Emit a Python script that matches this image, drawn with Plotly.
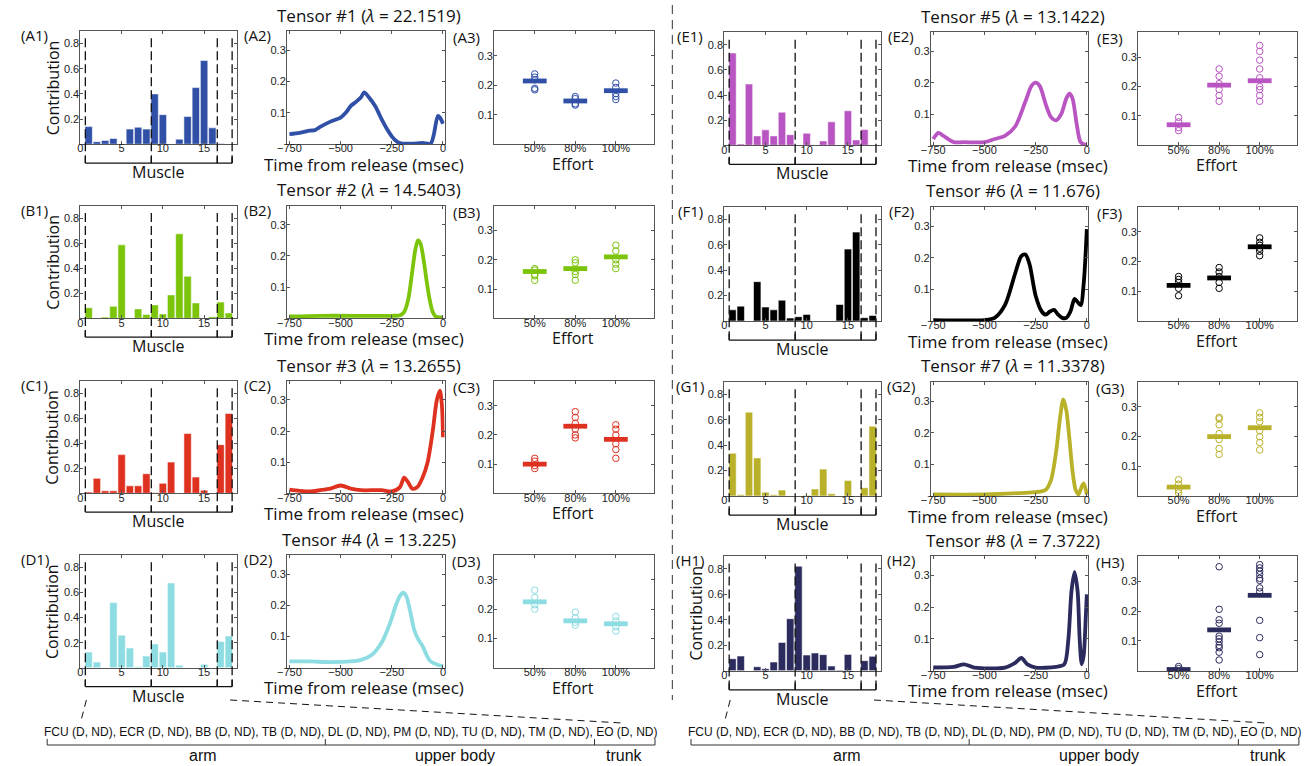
import plotly.graph_objects as go

W, H = 1309, 766

# ---------------- data ----------------
muscles = list(range(1, 19))
tensor_names = ["#1", "#2", "#3", "#4", "#5", "#6", "#7", "#8"]
tensor_letters = ["A", "B", "C", "D", "E", "F", "G", "H"]
lambdas = ["22.1519", "14.5403", "13.2655", "13.225", "13.1422", "11.676", "11.3378", "7.3722"]
colors = ["#3050A8", "#7BC40A", "#DF3120", "#8CDCE2", "#B955C2", "#000000", "#BAB12A", "#2B2B5E"]

contrib_A = [0.14, 0.02, 0.03, 0.045, 0.0, 0.12, 0.135, 0.12, 0.40, 0.235, 0.0, 0.04, 0.22, 0.45, 0.665, 0.13, 0.005, 0.0]
contrib_B = [0.085, 0.0, 0.01, 0.096, 0.587, 0.0, 0.075, 0.03, 0.107, 0.035, 0.187, 0.675, 0.336, 0.123, 0.0, 0.013, 0.13, 0.043]
contrib_C = [0.01, 0.12, 0.02, 0.02, 0.31, 0.06, 0.06, 0.157, 0.005, 0.08, 0.25, 0.0, 0.48, 0.13, 0.025, 0.0, 0.39, 0.64]
contrib_D = [0.125, 0.045, 0.0, 0.52, 0.26, 0.157, 0.01, 0.093, 0.19, 0.125, 0.677, 0.02, 0.0, 0.0, 0.027, 0.0, 0.21, 0.253]
contrib_E = [0.735, 0.01, 0.488, 0.075, 0.123, 0.075, 0.264, 0.085, 0.0, 0.096, 0.0, 0.035, 0.187, 0.0, 0.275, 0.043, 0.125, 0.0]
contrib_F = [0.088, 0.117, 0.0, 0.31, 0.11, 0.088, 0.164, 0.023, 0.034, 0.052, 0.0, 0.0, 0.0, 0.13, 0.566, 0.70, 0.026, 0.044]
contrib_G = [0.337, 0.01, 0.66, 0.30, 0.03, 0.01, 0.047, 0.0, 0.0, 0.005, 0.055, 0.212, 0.018, 0.0, 0.123, 0.0, 0.065, 0.55]
contrib_H = [0.094, 0.115, 0.0, 0.031, 0.016, 0.068, 0.222, 0.408, 0.82, 0.123, 0.139, 0.126, 0.037, 0.005, 0.128, 0.0, 0.079, 0.113]

time_A = [-750, -700, -650, -625, -600, -550, -500, -475, -450, -425, -400, -385, -360, -330, -300, -275, -250, -225, -200, -150, -100, -60, -45, -25, -15, 0]
course_A = [0.032, 0.036, 0.043, 0.045, 0.055, 0.072, 0.085, 0.1, 0.122, 0.135, 0.15, 0.165, 0.148, 0.12, 0.08, 0.05, 0.025, 0.008, 0.002, 0.002, 0.004, 0.002, 0.03, 0.09, 0.085, 0.065]
time_B = [-750, -600, -450, -300, -250, -210, -190, -170, -150, -135, -122, -110, -95, -80, -65, -50, -35, 0]
course_B = [0.006, 0.008, 0.008, 0.008, 0.008, 0.01, 0.02, 0.06, 0.15, 0.22, 0.25, 0.24, 0.19, 0.12, 0.06, 0.02, 0.005, 0.003]
time_C = [-750, -700, -650, -600, -550, -500, -450, -400, -300, -250, -210, -190, -170, -150, -125, -100, -75, -50, -30, -15, -5, 0]
course_C = [0.012, 0.008, 0.006, 0.01, 0.015, 0.025, 0.015, 0.01, 0.01, 0.006, 0.02, 0.05, 0.035, 0.015, 0.02, 0.05, 0.1, 0.2, 0.3, 0.33, 0.28, 0.18]
time_D = [-750, -650, -550, -450, -400, -350, -300, -260, -230, -210, -195, -180, -160, -140, -120, -100, -80, -60, -30, 0]
course_D = [0.02, 0.02, 0.018, 0.02, 0.025, 0.04, 0.08, 0.14, 0.2, 0.23, 0.24, 0.23, 0.18, 0.12, 0.09, 0.07, 0.04, 0.02, 0.01, 0.005]
time_E = [-750, -725, -700, -650, -600, -500, -450, -400, -350, -300, -270, -250, -230, -200, -175, -150, -125, -100, -85, -70, -50, -30, 0]
course_E = [0.02, 0.04, 0.03, 0.01, 0.01, 0.01, 0.02, 0.03, 0.06, 0.14, 0.19, 0.2, 0.19, 0.13, 0.09, 0.08, 0.1, 0.15, 0.165, 0.15, 0.07, 0.01, 0.0]
time_F = [-750, -500, -450, -400, -350, -320, -300, -280, -250, -220, -200, -180, -160, -140, -120, -100, -80, -60, -45, -30, -15, 0]
course_F = [0.003, 0.003, 0.01, 0.05, 0.15, 0.205, 0.21, 0.18, 0.08, 0.03, 0.02, 0.03, 0.035, 0.02, 0.01, 0.01, 0.03, 0.07, 0.06, 0.05, 0.12, 0.29]
time_G = [-750, -500, -300, -250, -200, -175, -150, -130, -115, -100, -85, -70, -55, -40, -25, -15, 0]
course_G = [0.005, 0.005, 0.01, 0.012, 0.02, 0.05, 0.14, 0.25, 0.305, 0.27, 0.18, 0.08, 0.02, 0.005, 0.03, 0.04, 0.005]
time_H = [-750, -650, -600, -550, -400, -350, -320, -290, -250, -150, -110, -90, -75, -60, -45, -35, -25, -15, -5, 0]
course_H = [0.01, 0.012, 0.02, 0.01, 0.01, 0.025, 0.04, 0.02, 0.01, 0.012, 0.02, 0.1, 0.25, 0.31, 0.25, 0.1, 0.02, 0.05, 0.17, 0.24]

effort_pos = [1, 2, 3]
effort_labels = ["50%", "80%", "100%"]
trials_A = [[0.239, 0.228, 0.219, 0.19, 0.185], [0.162, 0.155, 0.1375, 0.133], [0.208, 0.193, 0.172, 0.162, 0.152]]
means_A = [0.215, 0.147, 0.182]
trials_B = [[0.13, 0.145, 0.15, 0.165, 0.17], [0.13, 0.15, 0.16, 0.19, 0.2], [0.17, 0.185, 0.2, 0.23, 0.25]]
means_B = [0.16, 0.17, 0.21]
trials_C = [[0.085, 0.095, 0.11, 0.12], [0.19, 0.2, 0.22, 0.24, 0.26, 0.28], [0.12, 0.15, 0.17, 0.2, 0.22, 0.235]]
means_C = [0.10, 0.23, 0.185]
trials_D = [[0.2, 0.215, 0.24, 0.265], [0.145, 0.155, 0.17, 0.19], [0.125, 0.14, 0.16, 0.175]]
means_D = [0.225, 0.16, 0.15]
trials_E = [[0.05, 0.06, 0.08, 0.095], [0.15, 0.17, 0.19, 0.21, 0.235, 0.26], [0.15, 0.17, 0.19, 0.2, 0.23, 0.26, 0.29, 0.32, 0.34]]
means_E = [0.07, 0.205, 0.22]
trials_F = [[0.085, 0.11, 0.13, 0.14, 0.15], [0.11, 0.13, 0.15, 0.165, 0.18], [0.22, 0.235, 0.245, 0.255, 0.265, 0.28]]
means_F = [0.12, 0.145, 0.25]
trials_G = [[0.01, 0.02, 0.04, 0.055], [0.14, 0.16, 0.19, 0.21, 0.24, 0.26, 0.265], [0.155, 0.18, 0.2, 0.22, 0.25, 0.265, 0.28]]
means_G = [0.03, 0.2, 0.23]
trials_H = [[0.014, 0.007], [0.349, 0.206, 0.171, 0.159, 0.116, 0.107, 0.097, 0.085, 0.077, 0.062, 0.036],
            [0.356, 0.345, 0.334, 0.323, 0.31, 0.303, 0.278, 0.265, 0.169, 0.111, 0.054]]
means_H = [0.004, 0.137, 0.253]

group_bounds = [0.6, 8.6, 16.6, 18.4]
muscle_list_text = "FCU (D, ND), ECR (D, ND), BB (D, ND), TB (D, ND), DL (D, ND), PM (D, ND), TU (D, ND), TM (D, ND), EO (D, ND)"
group_names = ["arm", "upper body", "trunk"]

contribs = [contrib_A, contrib_B, contrib_C, contrib_D, contrib_E, contrib_F, contrib_G, contrib_H]
times = [time_A, time_B, time_C, time_D, time_E, time_F, time_G, time_H]
courses = [course_A, course_B, course_C, course_D, course_E, course_F, course_G, course_H]
trials = [trials_A, trials_B, trials_C, trials_D, trials_E, trials_F, trials_G, trials_H]
means = [means_A, means_B, means_C, means_D, means_E, means_F, means_G, means_H]

# ---------------- layout geometry (pixels) ----------------
bar_x0 = [71.0, 720.3]
line_x0 = [279.3, 928.6]
sc_x0 = [488.3, 1137.6]
bar_w, line_w, sc_w = 158.0, 159.0, 160.7
rows = [
    [(31.0, 144.2), (205.7, 318.3), (381.0, 493.3), (555.0, 667.7)],
    [(32.3, 145.3), (206.7, 321.0), (381.7, 496.0), (556.0, 670.7)],
]

TXT = "Open Sans"
TICKF = dict(family="Liberation Sans", size=11, color="#222")


def px(x):
    return x / W


def py(y):
    return 1 - y / H


def aid(n):
    return "" if n == 1 else str(n)


fig = go.Figure()
layout = dict(width=W, height=H, margin=dict(l=0, r=0, t=0, b=0), showlegend=False,
              paper_bgcolor="white", plot_bgcolor="white")
annotations = []
shapes = []


def axis_common(is_x):
    return dict(showline=True, linecolor="#555", linewidth=1, mirror="ticks", ticks="inside",
                ticklen=3, tickcolor="#555", tickfont=TICKF, showgrid=False, zeroline=False,
                fixedrange=True, ticklabelstandoff=(-6 if is_x else -2))


def ann(x, y, text, size=16, family=TXT, angle=0, color="#111"):
    annotations.append(dict(x=px(x), y=py(y), xref="paper", yref="paper", text=text, showarrow=False,
                            xanchor="center", yanchor="middle", textangle=angle,
                            font=dict(family=family, size=size, color=color)))


for i in range(8):
    col, row = i // 4, i % 4
    top, bot = rows[col][row]
    ydom = [py(bot), py(top)]
    color = colors[i]
    L = tensor_letters[i]

    # ---- bar panel ----
    n = 3 * i + 1
    xa = axis_common(True)
    xa.update(domain=[px(bar_x0[col]), px(bar_x0[col] + bar_w)], anchor="y" + aid(n), range=[0, 19],
              tickvals=[0, 5, 10, 15])
    ya = axis_common(False)
    ya.update(domain=ydom, anchor="x" + aid(n), range=[0, 0.9], tickvals=[0.2, 0.4, 0.6, 0.8])
    layout["xaxis" + aid(n)] = xa
    layout["yaxis" + aid(n)] = ya
    fig.add_trace(go.Bar(x=muscles, y=contribs[i], width=0.9, marker=dict(color=color,
                  line=dict(color="rgba(255,255,255,0.55)", width=1)), xaxis="x" + aid(n), yaxis="y" + aid(n)))
    for b in group_bounds:
        shapes.append(dict(type="line", xref="x%s domain" % aid(n), yref="y%s domain" % aid(n),
                           x0=b / 19, x1=b / 19, y0=0.935, y1=-0.165,
                           line=dict(color="#111", width=1.3, dash="9px,4px")))
        shapes.append(dict(type="line", xref="x%s domain" % aid(n), yref="y%s domain" % aid(n),
                           x0=b / 19, x1=b / 19, y0=-0.11, y1=-0.168,
                           line=dict(color="#111", width=1.3)))
    shapes.append(dict(type="line", xref="x%s domain" % aid(n), yref="y%s domain" % aid(n),
                       x0=group_bounds[0] / 19, x1=group_bounds[-1] / 19, y0=-0.168, y1=-0.168,
                       line=dict(color="#111", width=1.3)))
    bcx = bar_x0[col] + bar_w / 2
    ann(bcx, bot + 28, "Muscle", 16)
    lab_x = 25 if col == 0 else 686
    ann(lab_x, top + 4, "(%s1)" % L, 15)
    if col == 0 or row == 3:
        ann(43 if col == 0 else 692, (top + bot) / 2, "Contribution", 16, angle=-90)

    # ---- line panel ----
    n = 3 * i + 2
    xa = axis_common(True)
    xa.update(domain=[px(line_x0[col]), px(line_x0[col] + line_w)], anchor="y" + aid(n), range=[-762, 8],
              tickvals=[-750, -500, -250, 0])
    ya = axis_common(False)
    ya.update(domain=ydom, anchor="x" + aid(n), range=[0, 0.361], tickvals=[0.1, 0.2, 0.3])
    layout["xaxis" + aid(n)] = xa
    layout["yaxis" + aid(n)] = ya
    fig.add_trace(go.Scatter(x=times[i], y=courses[i], mode="lines",
                             line=dict(color=color, width=3.8, shape="spline", smoothing=0.8),
                             xaxis="x" + aid(n), yaxis="y" + aid(n), cliponaxis=True))
    lcx = line_x0[col] + line_w / 2
    ann(lcx + 3, top - 16, "Tensor %s (<i>λ</i> = %s)" % (tensor_names[i], lambdas[i]), 17)
    ann(lcx - 2, bot + 20, "Time from release (msec)", 17)
    ann(line_x0[col] - 29.6, top + 4, "(%s2)" % L, 15)

    # ---- scatter panel ----
    n = 3 * i + 3
    xa = axis_common(True)
    xa.update(domain=[px(sc_x0[col]), px(sc_x0[col] + sc_w)], anchor="y" + aid(n), range=[0, 3.93],
              tickvals=effort_pos, ticktext=effort_labels)
    ya = axis_common(False)
    ya.update(domain=ydom, anchor="x" + aid(n), range=[0, 0.385], tickvals=[0.1, 0.2, 0.3])
    layout["xaxis" + aid(n)] = xa
    layout["yaxis" + aid(n)] = ya
    for k in range(3):
        fig.add_trace(go.Scatter(x=[effort_pos[k]] * len(trials[i][k]), y=trials[i][k], mode="markers",
                                 marker=dict(symbol="circle-open", size=6.5, color=color, line=dict(width=1)),
                                 xaxis="x" + aid(n), yaxis="y" + aid(n), cliponaxis=False))
    fig.add_trace(go.Scatter(x=effort_pos, y=means[i], mode="markers",
                             marker=dict(symbol="line-ew", size=17, color=color, line=dict(width=4.8, color=color)),
                             xaxis="x" + aid(n), yaxis="y" + aid(n), cliponaxis=False))
    scx = sc_x0[col] + sc_w / 2
    ann(scx - 1, bot + 20, "Effort", 16)
    ann(sc_x0[col] - 28.3, top + 6, "(%s3)" % L, 15)

# ---- column divider ----
shapes.append(dict(type="line", xref="paper", yref="paper", x0=px(668), x1=px(668), y0=py(5), y1=py(700),
                   line=dict(color="#555", width=1.2, dash="9px,6px")))

# ---- bottom muscle legend (both columns) ----
for col in range(2):
    off = 649.3 * col
    shapes.append(dict(type="line", xref="paper", yref="paper", x0=px(77 + off), y0=py(700), x1=px(71 + off), y1=py(723),
                       line=dict(color="#111", width=1, dash="7px,5px")))
    shapes.append(dict(type="line", xref="paper", yref="paper", x0=px(222 + off), y0=py(700), x1=px(617 + off), y1=py(723),
                       line=dict(color="#111", width=1, dash="7px,5px")))
    ann(344 + off, 732, muscle_list_text, 12, family="Liberation Sans")
    ticks = [37.5 + off, 318 + off, 589.5 + off, 650.5 + off]
    shapes.append(dict(type="line", xref="paper", yref="paper", x0=px(ticks[0]), x1=px(ticks[-1]), y0=py(745), y1=py(745),
                       line=dict(color="#333", width=1)))
    for t in ticks:
        shapes.append(dict(type="line", xref="paper", yref="paper", x0=px(t), x1=px(t), y0=py(745), y1=py(739),
                           line=dict(color="#333", width=1)))
    for g, gx in zip(group_names, [195, 449, 620]):
        ann(gx + off, 755, g, 16, family="Liberation Sans")

layout["annotations"] = annotations
layout["shapes"] = shapes
fig.update_layout(**layout)
fig.write_html("out.html")
